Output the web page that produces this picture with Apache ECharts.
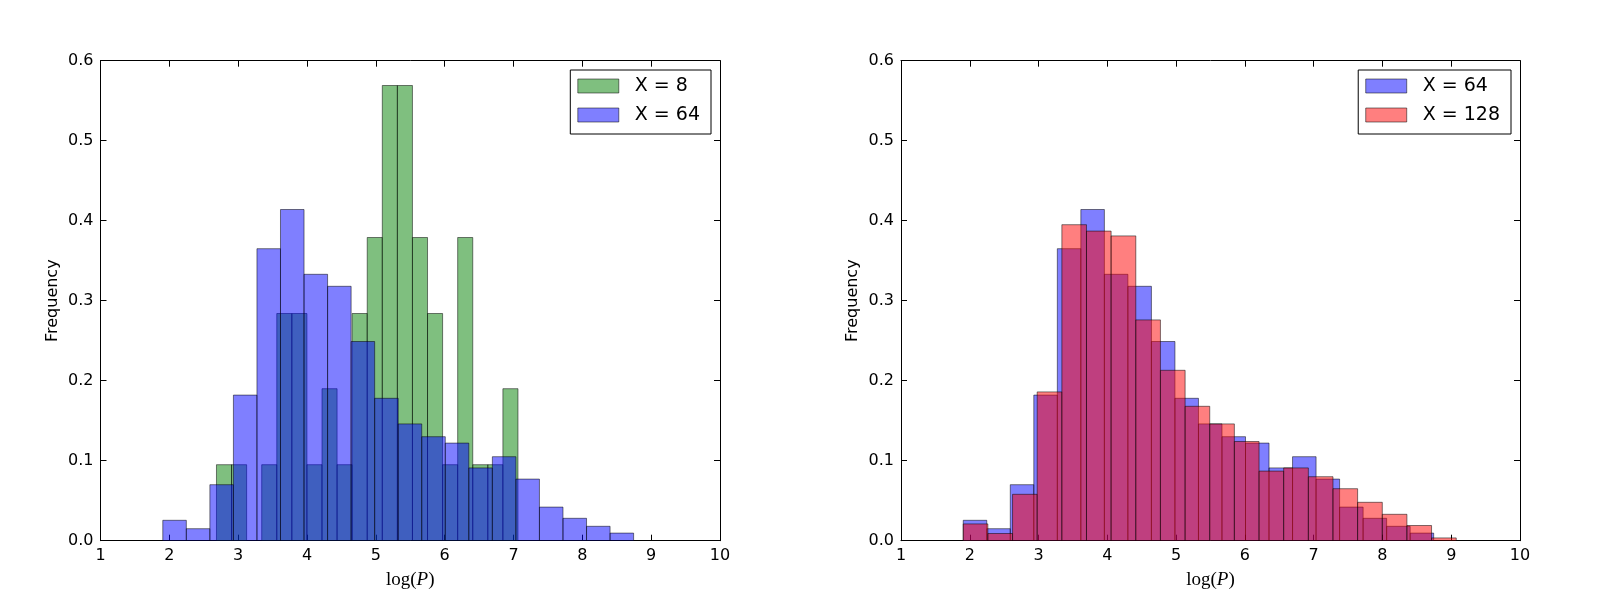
<!DOCTYPE html>
<html>
<head>
<meta charset="utf-8">
<title>log(P) histograms</title>
<script src="https://cdn.jsdelivr.net/npm/echarts@6/dist/echarts.min.js"></script>
<style>
  html, body { margin: 0; padding: 0; background: #fff; }
  #chart { width: 1600px; height: 600px; }
</style>
</head>
<body>
<div id="chart"></div>
<script>
// bin edges (20 bins each)
const edgesX8 = [2.685, 2.904, 3.123, 3.342, 3.561, 3.780, 3.999, 4.218, 4.437, 4.656, 4.875,
  5.094, 5.313, 5.532, 5.751, 5.970, 6.189, 6.408, 6.627, 6.846, 7.065];
const edgesX64 = [1.905, 2.247, 2.589, 2.931, 3.273, 3.615, 3.957, 4.299, 4.641, 4.983, 5.325,
  5.667, 6.009, 6.351, 6.693, 7.035, 7.377, 7.719, 8.061, 8.403, 8.745];
const edgesX128 = [1.905, 2.263, 2.622, 2.980, 3.339, 3.697, 4.055, 4.414, 4.772, 5.131, 5.489,
  5.847, 6.206, 6.564, 6.923, 7.281, 7.639, 7.998, 8.356, 8.714, 9.073];

// normalised frequencies per bin
const freqX8 = [0.095, 0.095, 0, 0.095, 0.284, 0.284, 0.095, 0.190, 0.095, 0.284,
  0.379, 0.569, 0.569, 0.379, 0.284, 0.095, 0.379, 0.095, 0.095, 0.190];
const freqX64 = [0.0255, 0.015, 0.070, 0.182, 0.365, 0.414, 0.333, 0.318, 0.249, 0.178,
  0.146, 0.130, 0.122, 0.091, 0.105, 0.077, 0.042, 0.028, 0.018, 0.0095];
const freqX128 = [0.021, 0.009, 0.058, 0.186, 0.395, 0.387, 0.381, 0.276, 0.213, 0.168,
  0.146, 0.124, 0.087, 0.091, 0.080, 0.065, 0.048, 0.033, 0.019, 0.0035];

const xTicks = [1, 2, 3, 4, 5, 6, 7, 8, 9, 10];
const yTicks = [0.0, 0.1, 0.2, 0.3, 0.4, 0.5, 0.6];

const GREEN = 'rgba(0,128,0,0.5)';
const BLUE = 'rgba(0,0,255,0.5)';
const RED = 'rgba(255,0,0,0.5)';
const EDGE = 'rgba(0,0,0,0.5)';
const FONT = 'DejaVu Sans';

function bins(edges, freq) {
  return freq.map((f, i) => [edges[i], edges[i + 1], f]);
}

function histItem(color) {
  return function (params, api) {
    const top = api.coord([api.value(0), api.value(2)]);
    const bot = api.coord([api.value(1), 0]);
    return {
      type: 'rect',
      shape: { x: top[0], y: top[1], width: bot[0] - top[0], height: bot[1] - top[1] },
      style: { fill: color, stroke: EDGE, lineWidth: 1 }
    };
  };
}

function histSeries(name, edges, freq, color, idx) {
  return {
    type: 'custom',
    name: name,
    xAxisIndex: idx,
    yAxisIndex: idx,
    renderItem: histItem(color),
    itemStyle: { color: color, borderColor: EDGE, borderWidth: 1 },
    encode: { x: [0, 1], y: 2 },
    data: bins(edges, freq),
    clip: true
  };
}

const grids = [
  { left: 100.5, top: 60.7, width: 619.5, height: 480 },
  { left: 901, top: 60.7, width: 619, height: 480 }
];

function bottomAxis(g) {
  return {
    type: 'value', gridIndex: g, position: 'bottom',
    min: xTicks[0], max: xTicks[xTicks.length - 1], interval: 1,
    name: '{n|log(}{i|P}{n|)}',
    nameLocation: 'middle', nameGap: 30,
    nameTextStyle: {
      rich: {
        n: { fontFamily: 'Liberation Serif', fontSize: 19, color: '#000' },
        i: { fontFamily: 'Liberation Serif', fontSize: 19, fontStyle: 'italic', color: '#000' }
      }
    },
    axisLine: { show: true, onZero: false, lineStyle: { color: '#000', width: 1 } },
    axisTick: { show: true, inside: true, length: 6, lineStyle: { color: '#000' } },
    axisLabel: { color: '#000', fontFamily: FONT, fontSize: 16, margin: 7 },
    splitLine: { show: false }
  };
}

function topAxis(g) {
  return {
    type: 'value', gridIndex: g, position: 'top',
    min: xTicks[0], max: xTicks[xTicks.length - 1], interval: 1,
    axisLine: { show: true, onZero: false, lineStyle: { color: '#000', width: 1 } },
    axisTick: { show: true, inside: true, length: 6, lineStyle: { color: '#000' } },
    axisLabel: { show: false },
    splitLine: { show: false }
  };
}

function leftAxis(g) {
  return {
    type: 'value', gridIndex: g, position: 'left',
    min: yTicks[0], max: yTicks[yTicks.length - 1], interval: 0.1,
    name: 'Frequency',
    nameLocation: 'middle', nameGap: 40,
    nameTextStyle: { fontFamily: FONT, fontSize: 16, color: '#000' },
    axisLine: { show: true, onZero: false, lineStyle: { color: '#000', width: 1 } },
    axisTick: { show: true, inside: true, length: 6, lineStyle: { color: '#000' } },
    axisLabel: { color: '#000', fontFamily: FONT, fontSize: 16, margin: 7,
      formatter: v => v.toFixed(1) },
    splitLine: { show: false }
  };
}

function rightAxis(g) {
  return {
    type: 'value', gridIndex: g, position: 'right',
    min: yTicks[0], max: yTicks[yTicks.length - 1], interval: 0.1,
    axisLine: { show: true, onZero: false, lineStyle: { color: '#000', width: 1 } },
    axisTick: { show: true, inside: true, length: 6, lineStyle: { color: '#000' } },
    axisLabel: { show: false },
    splitLine: { show: false }
  };
}

function legendBox(right, names, colors) {
  return {
    orient: 'vertical',
    right: right, top: 70,
    padding: [6, 11, 9, 7],
    itemWidth: 41, itemHeight: 14, itemGap: 9,
    borderColor: '#000', borderWidth: 1, borderRadius: 0,
    backgroundColor: '#fff',
    selectedMode: false,
    textStyle: { fontFamily: FONT, fontSize: 19, color: '#000', lineHeight: 20, padding: [0, 0, 0, 11] },
    data: names.map((n, i) => ({
      name: n, icon: 'rect',
      itemStyle: { color: colors[i], borderColor: EDGE, borderWidth: 1 }
    }))
  };
}

const chart = echarts.init(document.getElementById('chart'), null, { renderer: 'canvas' });
chart.setOption({
  animation: false,
  backgroundColor: '#fff',
  grid: grids,
  xAxis: [bottomAxis(0), bottomAxis(1), topAxis(0), topAxis(1)],
  yAxis: [leftAxis(0), leftAxis(1), rightAxis(0), rightAxis(1)],
  legend: [
    legendBox(889, ['X = 8', 'X = 64'], [GREEN, BLUE]),
    legendBox(89, ['X = 64', 'X = 128'], [BLUE, RED])
  ],
  series: [
    histSeries('X = 8', edgesX8, freqX8, GREEN, 0),
    histSeries('X = 64', edgesX64, freqX64, BLUE, 0),
    histSeries('X = 64', edgesX64, freqX64, BLUE, 1),
    histSeries('X = 128', edgesX128, freqX128, RED, 1)
  ]
});
</script>
</body>
</html>
